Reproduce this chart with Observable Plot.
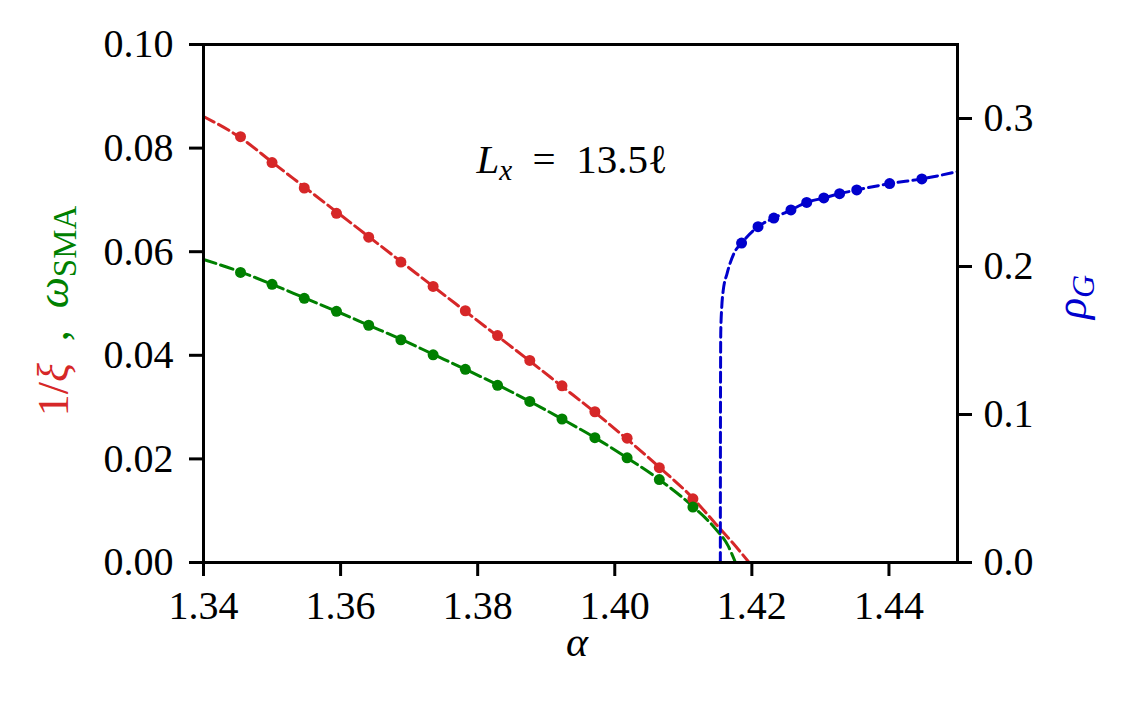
<!DOCTYPE html>
<html>
<head>
<meta charset="utf-8">
<script src="https://cdn.jsdelivr.net/npm/d3@7"></script>
<script src="https://cdn.jsdelivr.net/npm/@observablehq/plot@0.6"></script>
<style>
  html, body { margin: 0; padding: 0; background: #fff; }
  #chart { width: 1130px; height: 720px; }
</style>
</head>
<body>
<div id="chart"></div>
<script>
// ---- data ----
const ptAlpha = [1.3454, 1.3500, 1.3547, 1.3594, 1.3641, 1.3688, 1.3735, 1.3782, 1.3829, 1.3876, 1.3923, 1.3971, 1.4018, 1.4065, 1.4114];
const invXi   = [0.0822, 0.0772, 0.0723, 0.0674, 0.0628, 0.0580, 0.0533, 0.0486, 0.0438, 0.0390, 0.0341, 0.0291, 0.0240, 0.0183, 0.0123];
const omegaSMA= [0.0560, 0.0537, 0.0510, 0.0485, 0.0458, 0.0430, 0.0401, 0.0373, 0.0342, 0.0311, 0.0277, 0.0241, 0.0202, 0.0160, 0.0107];

const redFitAlpha = [1.3400, 1.3454, 1.3500, 1.3547, 1.3594, 1.3641, 1.3688, 1.3735, 1.3782, 1.3829, 1.3876, 1.3923, 1.3971, 1.4018, 1.4065, 1.4114, 1.4147, 1.4172, 1.4196];
const redFitVal   = [0.0861, 0.0820, 0.0773, 0.0725, 0.0677, 0.0629, 0.0581, 0.0533, 0.0485, 0.0437, 0.0389, 0.0340, 0.0290, 0.0238, 0.0184, 0.0124, 0.0075, 0.0038, 0.0000];

const greenFitAlpha = [1.3400, 1.3454, 1.3500, 1.3547, 1.3594, 1.3641, 1.3688, 1.3735, 1.3782, 1.3829, 1.3876, 1.3923, 1.3971, 1.4018, 1.4065, 1.4114, 1.4147, 1.4165, 1.4176];
const greenFitVal   = [0.0585, 0.0561, 0.0537, 0.0511, 0.0485, 0.0458, 0.0431, 0.0402, 0.0373, 0.0343, 0.0311, 0.0277, 0.0241, 0.0202, 0.0160, 0.0108, 0.0065, 0.0033, 0.0000];

const rhoAlpha = [1.4185, 1.4209, 1.4232, 1.4257, 1.4280, 1.4305, 1.4328, 1.4353, 1.4401, 1.4448];
const rhoG     = [0.2158, 0.2269, 0.2327, 0.2382, 0.2433, 0.2463, 0.2492, 0.2517, 0.2560, 0.2592];

const blueFitAlpha = [1.41540, 1.41542, 1.41546, 1.41560, 1.41580, 1.41640, 1.41740, 1.4185, 1.4209, 1.4232, 1.4257, 1.4280, 1.4305, 1.4328, 1.4353, 1.4401, 1.4448, 1.4500];
const blueFitVal   = [0.000, 0.100, 0.155, 0.172, 0.183, 0.1955, 0.209, 0.2158, 0.2269, 0.2327, 0.2382, 0.2433, 0.2463, 0.2492, 0.2517, 0.2560, 0.2592, 0.2641];

const xTicks = [1.34, 1.36, 1.38, 1.40, 1.42, 1.44];
const yLeftTicks = [0.00, 0.02, 0.04, 0.06, 0.08, 0.10];
const yRightTicks = [0.0, 0.1, 0.2, 0.3];

// right axis (0 .. 0.35) mapped onto the left scale (0 .. 0.10)
const leftMax = 0.10, rightMax = 0.35;
const k = leftMax / rightMax;

const RED = "#d62728", GREEN = "#008000", BLUE = "#0000cd";
const FONT = "Liberation Serif";

const toRows = (xs, ys, f = 1) => xs.map((x, i) => ({x, y: ys[i] * f}));

const chart = Plot.plot({
  width: 1130,
  height: 720,
  marginLeft: 203,
  marginRight: 173,
  marginTop: 44,
  marginBottom: 158,
  style: {fontSize: "40px", background: "white", color: "black"},
  x: {domain: [1.34, 1.45]},
  y: {domain: [0, leftMax]},
  marks: [
    Plot.line(toRows(redFitAlpha, redFitVal), {x: "x", y: "y", stroke: RED, strokeWidth: 3, strokeDasharray: "12,5", curve: "monotone-x"}),
    Plot.line(toRows(greenFitAlpha, greenFitVal), {x: "x", y: "y", stroke: GREEN, strokeWidth: 3, strokeDasharray: "13,5", curve: "monotone-x"}),
    Plot.line(toRows(blueFitAlpha, blueFitVal, k), {x: "x", y: "y", stroke: BLUE, strokeWidth: 3, strokeDasharray: "10,5", curve: "monotone-x"}),
    Plot.dot(toRows(ptAlpha, invXi), {x: "x", y: "y", r: 5.5, fill: RED}),
    Plot.dot(toRows(ptAlpha, omegaSMA), {x: "x", y: "y", r: 5.5, fill: GREEN}),
    Plot.dot(toRows(rhoAlpha, rhoG, k), {x: "x", y: "y", r: 5.5, fill: BLUE}),
    Plot.axisX(xTicks, {anchor: "bottom", tickSize: 14, tickPadding: 14, strokeWidth: 3, tickFormat: d => d.toFixed(2), label: null, fontSize: 40}),
    Plot.axisY(yLeftTicks, {anchor: "left", tickSize: 14, tickPadding: 16, strokeWidth: 3, tickFormat: d => d.toFixed(2), label: null, fontSize: 40}),
    Plot.axisY(yRightTicks.map(v => v * k), {anchor: "right", tickSize: 14, tickPadding: 12, strokeWidth: 3, tickFormat: d => (d / k).toFixed(1), label: null, fontSize: 40}),
    Plot.frame({stroke: "black", strokeWidth: 3})
  ]
});

document.getElementById("chart").appendChild(chart);

// ---- labels (rich text) ----
const svg = d3.select(chart);

// x label
svg.append("text")
  .attr("x", 577).attr("y", 656)
  .attr("text-anchor", "middle")
  .attr("font-size", 42).attr("font-style", "italic")
  .text("α");

// left y label
const yl = svg.append("text")
  .attr("transform", "translate(68,311) rotate(-90)")
  .attr("text-anchor", "middle")
  .attr("font-size", 44);
yl.append("tspan").attr("fill", RED).text("1/");
yl.append("tspan").attr("fill", RED).attr("font-style", "italic").text("ξ");
yl.append("tspan").attr("fill", GREEN).text("  ,  ");
yl.append("tspan").attr("fill", GREEN).attr("font-style", "italic").text("ω");
yl.append("tspan").attr("fill", GREEN).attr("font-size", 33).attr("dy", 8).text("SMA");

// right y label
const yr = svg.append("text")
  .attr("transform", "translate(1086,297) rotate(-90)")
  .attr("text-anchor", "middle")
  .attr("font-size", 44).attr("fill", BLUE);
yr.append("tspan").attr("font-style", "italic").text("ρ");
yr.append("tspan").attr("font-style", "italic").attr("font-size", 32).attr("dy", 8).text("G");

// annotation
const ann = svg.append("text")
  .attr("x", 572).attr("y", 173)
  .attr("text-anchor", "middle")
  .attr("font-size", 41);
ann.append("tspan").attr("font-style", "italic").text("L");
ann.append("tspan").attr("font-style", "italic").attr("font-size", 29).attr("dy", 7).text("x");
ann.append("tspan").attr("dy", -7).text("  =  13.5ℓ");

// serif family as a plain presentation attribute on the svg and every text
chart.setAttribute("font-family", FONT);
chart.querySelectorAll("g, text, tspan").forEach(el => {
  el.setAttribute("font-family", FONT);
});
</script>
</body>
</html>
